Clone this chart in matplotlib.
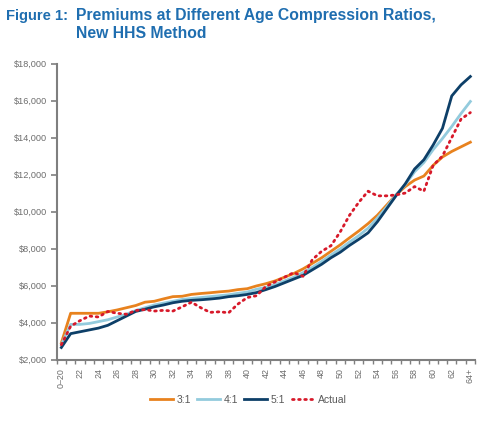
import matplotlib
matplotlib.use("Agg")
import matplotlib.pyplot as plt
import numpy as np

plt.rcParams['font.family'] = ['Liberation Sans', 'DejaVu Sans']

categories = ["0\u201320"] + [str(a) for a in range(21, 64)] + ["64+"]

ratio_3_1 = [2900, 4500, 4500, 4500, 4500, 4580, 4680, 4800, 4920, 5100, 5150,
             5280, 5400, 5420, 5520, 5570, 5610, 5660, 5700, 5780, 5830, 5980,
             6100, 6250, 6450, 6650, 6900, 7200, 7500, 7850, 8200, 8580, 8950,
             9350, 9800, 10350, 10900, 11350, 11700, 11920, 12500, 12950, 13250,
             13500, 13750]
ratio_4_1 = [2800, 3900, 3900, 3950, 4050, 4150, 4300, 4450, 4650, 4800, 4950,
             5050, 5150, 5250, 5300, 5350, 5400, 5450, 5500, 5580, 5650, 5800,
             5900, 6050, 6250, 6450, 6700, 6980, 7300, 7650, 7980, 8350, 8700,
             9100, 9650, 10250, 10900, 11450, 12150, 12650, 13350, 13950, 14600,
             15300, 15950]
ratio_5_1 = [2650, 3400, 3500, 3600, 3700, 3850, 4100, 4350, 4600, 4720, 4850,
             4950, 5070, 5150, 5200, 5230, 5270, 5320, 5400, 5450, 5520, 5620,
             5780, 5950, 6150, 6350, 6550, 6850, 7150, 7500, 7800, 8170, 8500,
             8850, 9450, 10150, 10850, 11500, 12300, 12800, 13600, 14500, 16250,
             16850, 17300]
actual = [2800, 3800, 4100, 4350, 4300, 4600, 4500, 4450, 4650, 4700, 4620,
          4660, 4620, 4850, 5100, 4800, 4550, 4580, 4530, 5000, 5350, 5450,
          5950, 6200, 6450, 6700, 6500, 7400, 7850, 8150, 8900, 9800, 10500,
          11100, 10850, 10850, 10900, 11000, 11350, 11100, 12500, 13000, 14000,
          15000, 15350]

y_ticks = [2000, 4000, 6000, 8000, 10000, 12000, 14000, 16000, 18000]

fig = plt.figure(figsize=(5.0, 4.21), dpi=100)
ax = fig.add_axes([0.1134, 0.146, 0.8366, 0.703])

x = np.arange(len(categories))
c_or = "#E8821E"
c_lb = "#93CBDD"
c_db = "#0D3F68"
c_rd = "#D7192A"

ax.plot(x, ratio_3_1, color=c_or, lw=2.0, label="3:1")
ax.plot(x, ratio_4_1, color=c_lb, lw=2.0, label="4:1")
ax.plot(x, ratio_5_1, color=c_db, lw=2.0, label="5:1")
ax.plot(x, actual, color=c_rd, lw=2.0, linestyle=(0, (0.6, 1.6)),
        dash_capstyle='round', label="Actual")

ax.set_xlim(-0.5, len(categories) - 0.5)
ax.set_ylim(2000, 18000)

for s in ["top", "right"]:
    ax.spines[s].set_visible(False)
for s in ["left", "bottom"]:
    ax.spines[s].set_color("#7f7f7f")
    ax.spines[s].set_linewidth(1.5)

ax.set_yticks(y_ticks)
ax.set_yticklabels(["${:,}".format(v) for v in y_ticks])
ax.tick_params(axis='y', direction='out', length=4, width=1.2, color="#7f7f7f",
               labelsize=6.6, labelcolor="#6d6d6d", pad=3)

ax.set_xticks(x[::2])
ax.set_xticklabels(categories[::2], rotation=90)
ax.set_xticks(np.arange(-0.5, len(categories)), minor=True)
ax.tick_params(axis='x', which='major', length=0, labelsize=6.4,
               labelcolor="#6d6d6d", pad=6)
ax.tick_params(axis='x', which='minor', direction='out', length=3, width=1.0,
               color="#7f7f7f")

leg = fig.legend(loc='center', bbox_to_anchor=(0.497, 0.05), ncol=4, frameon=False,
                 fontsize=7.5, handlelength=2.2, handletextpad=0.35,
                 columnspacing=0.6, labelcolor="#595959")

tcol = "#1F6EB0"
fs = 11.3
fig.text(0.012, 0.962, "Figure 1:", fontsize=10.6, fontweight='bold', color=tcol,
         ha='left', va='center')
fig.text(0.152, 0.962, "Premiums at Different Age Compression Ratios,",
         fontsize=fs, fontweight='bold', color=tcol, ha='left', va='center')
fig.text(0.152, 0.920, "New HHS Method", fontsize=fs, fontweight='bold',
         color=tcol, ha='left', va='center')

fig.savefig("out.png", dpi=100)
